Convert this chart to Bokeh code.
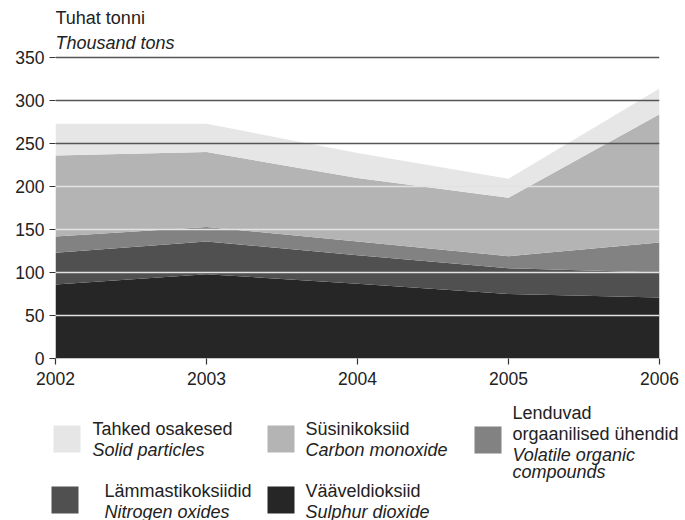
from bokeh.plotting import figure
from bokeh.models import ColumnDataSource, Range1d, Span, FixedTicker
from bokeh.core.properties import value
from bokeh.embed import file_html
from bokeh.resources import INLINE

# ---- data (thousand tons) ----
years = [2002, 2003, 2004, 2005, 2006]
sulphur_dioxide = [86, 98, 87, 75, 71]
nitrogen_oxides = [37, 38, 33, 30, 29]
volatile_organic = [19, 17, 16, 14, 35]
carbon_monoxide = [94, 87, 74, 68, 149]
solid_particles = [37, 33, 29, 22, 30]

y_ticks = [0, 50, 100, 150, 200, 250, 300, 350]
x_ticks = [2002, 2003, 2004, 2005, 2006]

series_keys = ["so2", "nox", "voc", "co", "solid"]
series_colors = ["#262626", "#505050", "#828282", "#b4b4b4", "#e6e6e6"]
legend_et = ["Vääveldioksiid", "Lämmastikoksiidid", "Lenduvad\norgaanilised ühendid",
             "Süsinikoksiid", "Tahked osakesed"]
legend_en = ["Sulphur dioxide", "Nitrogen oxides", "Volatile organic\ncompounds",
             "Carbon monoxide", "Solid particles"]

FONT = value("Liberation Sans")
FS = "18px"
TICK_FS = "17.5px"

source = ColumnDataSource(dict(year=years, so2=sulphur_dioxide, nox=nitrogen_oxides,
                               voc=volatile_organic, co=carbon_monoxide,
                               solid=solid_particles))

FRAME_H = 358          # frame spans page y 0..358
Y_TOP = FRAME_H / 0.86  # 0.86 px per thousand tons

p = figure(width=685, height=391, output_backend="svg", toolbar_location=None,
           x_range=Range1d(2002, 2006), y_range=Range1d(0, Y_TOP),
           min_border_left=55, min_border_right=26, min_border_top=0,
           min_border_bottom=33)
p.outline_line_color = None
p.xgrid.grid_line_color = None
p.ygrid.grid_line_color = None

p.varea_stack(stackers=series_keys, x="year", color=series_colors, source=source)

# grid lines drawn on top: light over the filled part, dark above it
for v in y_ticks[1:]:
    col = "#e2e2e2" if v <= 200 else "#555555"
    p.add_layout(Span(location=v, dimension="width", line_color=col, line_width=1.6))

for ax in (p.xaxis[0], p.yaxis[0]):
    ax.axis_line_color = None
    ax.major_tick_line_color = "#333333"
    ax.major_tick_line_width = 1.2
    ax.major_tick_out = 6
    ax.major_tick_in = 0
    ax.minor_tick_line_color = None
    ax.major_label_text_font = "Liberation Sans"
    ax.major_label_text_font_size = TICK_FS
    ax.major_label_text_color = "#222222"

p.yaxis[0].ticker = FixedTicker(ticks=y_ticks)
p.xaxis[0].ticker = FixedTicker(ticks=x_ticks)
p.yaxis[0].major_label_standoff = 5
p.xaxis[0].major_label_standoff = 7

# unit title, inside the top of the frame (page y 17 and 42)
p.text(x=[2002], y=[(FRAME_H - 17) / 0.86], text=["Tuhat tonni"], text_font=FONT,
       text_font_size=FS, text_baseline="middle", text_align="left",
       text_color="#222222")
p.text(x=[2002], y=[(FRAME_H - 42) / 0.86], text=["Thousand tons"], text_font=FONT,
       text_font_size=FS, text_font_style="italic", text_baseline="middle",
       text_align="left", text_color="#222222")

# ---- legend figure (1 data unit = 1 px, y downwards) ----
OX, OY = 0, 391
LH = 129
lg = figure(width=685, height=LH, output_backend="svg", toolbar_location=None,
            x_range=Range1d(0, 685), y_range=Range1d(LH, 0),
            x_axis_location=None, y_axis_location=None,
            min_border=0, min_border_left=0, min_border_right=0,
            min_border_top=0, min_border_bottom=0)
lg.grid.visible = False
lg.outline_line_color = None

# legend slots: (square left, square top, text x, first text line y) in page px
slots = {
    "solid": (53, 425, 92, 428),
    "co": (267, 425, 305, 428),
    "voc": (474, 426, 512, 412),
    "nox": (51, 486, 104, 490),
    "so2": (267, 486, 305, 490),
}
SQ = 27
for i, key in enumerate(series_keys):
    sl, st, tx, ty = slots[key]
    lg.quad(left=[sl - OX], right=[sl - OX + SQ], top=[st - OY], bottom=[st - OY + SQ],
            color=series_colors[i], line_color=None)
    lines_et = legend_et[i].split("\n")
    lines_en = legend_en[i].split("\n")
    y = ty - OY
    for ln in lines_et:
        lg.text(x=[tx - OX], y=[y], text=[ln], text_font=FONT, text_font_size=FS,
                text_baseline="middle", text_align="left", text_color="#222222")
        y += 21
    for ln in lines_en:
        lg.text(x=[tx - OX], y=[y], text=[ln], text_font=FONT, text_font_size=FS,
                text_font_style="italic", text_baseline="middle", text_align="left",
                text_color="#222222")
        y += 17

open("out.html", "w").write(file_html([p, lg], INLINE))
